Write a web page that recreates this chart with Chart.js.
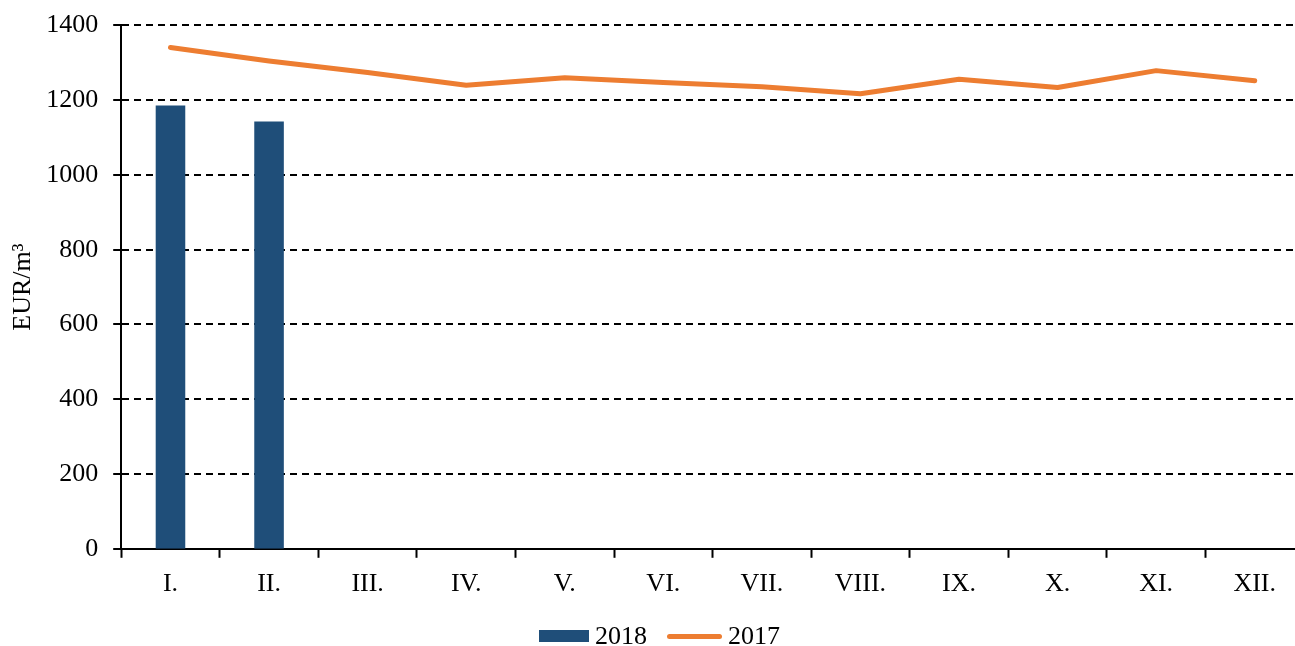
<!DOCTYPE html>
<html>
<head>
<meta charset="utf-8">
<script src="https://cdn.jsdelivr.net/npm/chart.js@4/dist/chart.umd.min.js"></script>
<style>
  html, body { margin: 0; padding: 0; background: #fff; overflow: hidden; }
  #wrap { position: relative; width: 1304px; height: 646px; }
  #legend {
    position: absolute; left: 12px; top: 621px; width: 1295px;
    display: flex; justify-content: center; align-items: center;
    font-family: "Liberation Serif", serif; font-size: 26px; color: #000;
  }
  #legend .item { display: flex; align-items: center; margin: 0 10px; }
  #legend .swatch { display: inline-block; margin-right: 6px; }
</style>
</head>
<body>
<div id="wrap">
  <canvas id="graph" width="1304" height="646"></canvas>
  <div id="legend"></div>
</div>
<script>
const months = ['I.', 'II.', 'III.', 'IV.', 'V.', 'VI.', 'VII.', 'VIII.', 'IX.', 'X.', 'XI.', 'XII.'];
const values2018 = [1186, 1143, null, null, null, null, null, null, null, null, null, null];
const values2017 = [1341, 1305, 1274, 1240, 1260, 1247, 1236, 1217, 1256, 1234, 1279, 1252];
const yTicks = [0, 200, 400, 600, 800, 1000, 1200, 1400];

const blue = '#1F4E79';
const orange = '#ED7D31';
const family = '"Liberation Serif", "Times New Roman", serif';
const font = { family: family, size: 26 };

const ctx = document.getElementById('graph');

const chart = new Chart(ctx, {
  data: {
    labels: months,
    datasets: [{
      type: 'bar',
      label: '2018',
      data: values2018,
      backgroundColor: blue,
      barPercentage: 0.3,
      categoryPercentage: 1,
      order: 2
    }, {
      type: 'line',
      label: '2017',
      data: values2017,
      borderColor: orange,
      backgroundColor: orange,
      borderWidth: 5,
      borderCapStyle: 'round',
      borderJoinStyle: 'round',
      pointRadius: 0,
      tension: 0,
      order: 1
    }]
  },
  options: {
    responsive: false,
    animation: false,
    layout: { padding: { left: 5, top: 20, right: 0, bottom: 35 } },
    plugins: {
      legend: { display: false },
      tooltip: { enabled: false }
    },
    scales: {
      x: {
        offset: true,
        grid: {
          offset: true,
          drawOnChartArea: false,
          drawTicks: true,
          tickLength: 9,
          tickColor: '#000',
          tickWidth: 2,
          color: '#000'
        },
        border: { display: true, color: '#000', width: 2 },
        ticks: { color: '#000', font: font, padding: 11, maxRotation: 0 }
      },
      y: {
        min: 0,
        max: 1400,
        afterBuildTicks: (axis) => { axis.ticks = yTicks.map(v => ({ value: v })); },
        grid: {
          color: '#000',
          lineWidth: (c) => (c.tick && c.tick.value === 0 ? 0 : 2),
          drawTicks: true,
          tickLength: 8,
          tickColor: '#000',
          tickWidth: 2,
          tickBorderDash: []
        },
        border: { display: true, color: '#000', width: 2, dash: [7, 5] },
        ticks: {
          color: '#000',
          font: { family: family, size: 26, lineHeight: 0.8 },
          padding: 15,
          callback: (v) => String(v)
        },
        title: {
          display: true,
          text: 'EUR/m³',
          color: '#000',
          font: font,
          padding: { top: 3, bottom: -8 }
        }
      }
    }
  }
});

// legenda pod grafem
const legend = document.getElementById('legend');
chart.data.datasets.forEach(ds => {
  const item = document.createElement('span');
  item.className = 'item';
  const sw = document.createElement('span');
  sw.className = 'swatch';
  if (ds.type === 'bar') {
    sw.style.cssText = 'width:50px;height:12px;background:' + ds.backgroundColor;
  } else {
    sw.style.cssText = 'width:55px;height:5px;border-radius:3px;background:' + ds.borderColor;
  }
  item.appendChild(sw);
  item.appendChild(document.createTextNode(ds.label));
  legend.appendChild(item);
});
</script>
</body>
</html>
